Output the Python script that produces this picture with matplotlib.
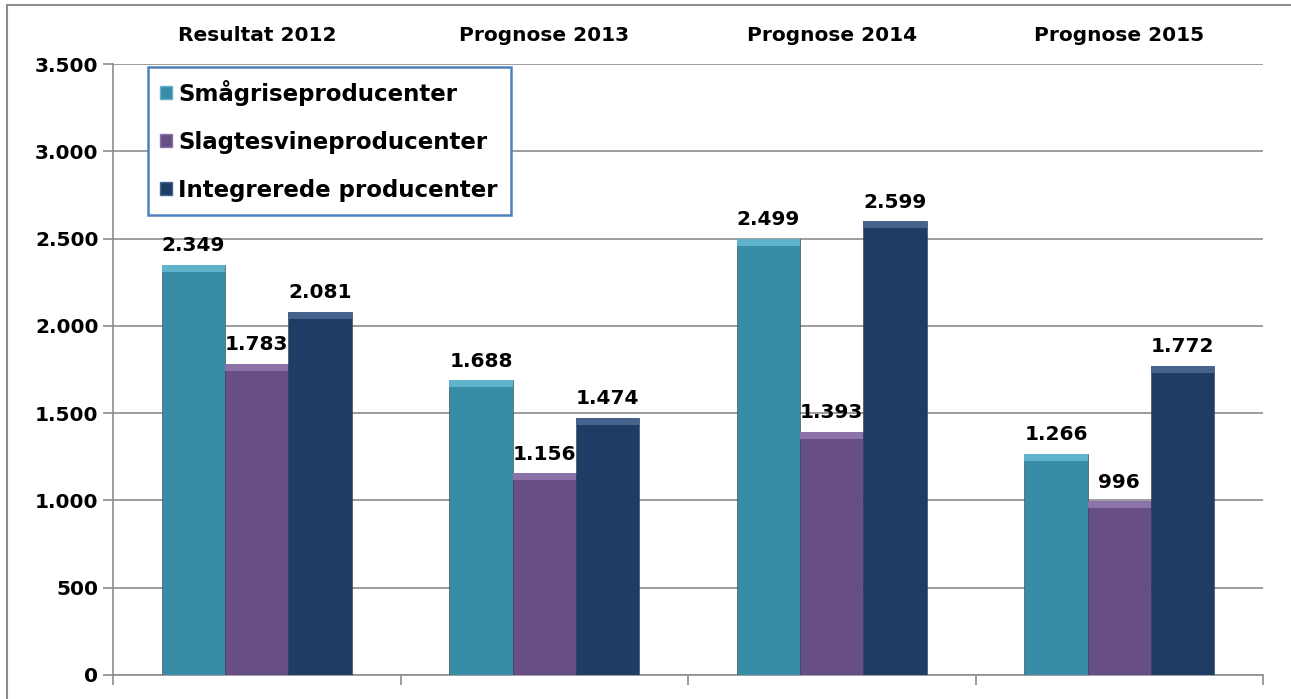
import numpy as np
import matplotlib.pyplot as plt
from matplotlib.patches import Patch, Rectangle

# data
categories = ["Resultat 2012", "Prognose 2013", "Prognose 2014", "Prognose 2015"]
series_names = ["Smågriseproducenter", "Slagtesvineproducenter", "Integrerede producenter"]
smaagrise = [2349, 1688, 2499, 1266]
slagtesvine = [1783, 1156, 1393, 996]
integrerede = [2081, 1474, 2599, 1772]
yticks = [0, 500, 1000, 1500, 2000, 2500, 3000, 3500]

colors = ["#388ca6", "#674f85", "#1f3d64"]
tops = ["#5fb3ca", "#8b73a8", "#44648e"]

def fmt(v):
    return f"{v:,}".replace(",", ".")

fig = plt.figure(figsize=(12.91, 6.99), dpi=100)
ax = fig.add_axes([113 / 1291, 24 / 699, 1150 / 1291, 611 / 699])

# outer border
fig.patches.append(Rectangle((7 / 1291, -0.01), 1.1, (699 - 5) / 699 + 0.01,
                             transform=fig.transFigure, fill=False,
                             edgecolor="#8c8c8c", linewidth=1.5))

x = np.arange(len(categories))
width = 0.22
band = 40
for i, vals in enumerate([smaagrise, slagtesvine, integrerede]):
    pos = x + (i - 1) * width
    ax.bar(pos, vals, width=width, color=colors[i], edgecolor="#2a3a4a",
           linewidth=0.4, zorder=3)
    # top bevel highlight
    ax.bar(pos, [band] * len(vals), bottom=[v - band for v in vals], width=width,
           color=tops[i], linewidth=0, zorder=4)
    for p, v in zip(pos, vals):
        ax.text(p, v + 55, fmt(v), ha="center", va="bottom", fontsize=14.5,
                fontweight="bold", zorder=5)

ax.set_xlim(-0.5, len(categories) - 0.5)
ax.set_ylim(0, 3500)
ax.set_yticks(yticks)
ax.set_yticklabels([fmt(t) for t in yticks], fontsize=14.5, fontweight="bold")
ax.yaxis.grid(True, color="#8c8c8c", linewidth=1.2, zorder=0)
ax.set_xticks(np.arange(len(categories) + 1) - 0.5)
ax.set_xticklabels([])
ax.tick_params(axis="both", colors="#8c8c8c", length=7, width=1.2, labelcolor="black")
for s in ["top", "right"]:
    ax.spines[s].set_visible(False)
for s in ["left", "bottom"]:
    ax.spines[s].set_color("#8c8c8c")
    ax.spines[s].set_linewidth(1.2)

for xi, c in zip(x, categories):
    ax.text(xi, 1.047, c, transform=ax.get_xaxis_transform(), ha="center",
            va="center", fontsize=14.5, fontweight="bold")

handles = [Patch(facecolor=colors[i], edgecolor=tops[i]) for i in range(3)]
leg = ax.legend(handles, series_names, loc="upper left",
                bbox_to_anchor=(0.03, 0.995), fancybox=False, framealpha=1,
                prop={"size": 16.5, "weight": "bold"}, labelspacing=1.1,
                handlelength=0.5, handleheight=0.5, handletextpad=0.3,
                borderpad=0.55, borderaxespad=0)
leg.get_frame().set_edgecolor("#4f81bd")
leg.get_frame().set_linewidth(1.8)
leg.set_zorder(6)

plt.savefig("out.png", dpi=100)
